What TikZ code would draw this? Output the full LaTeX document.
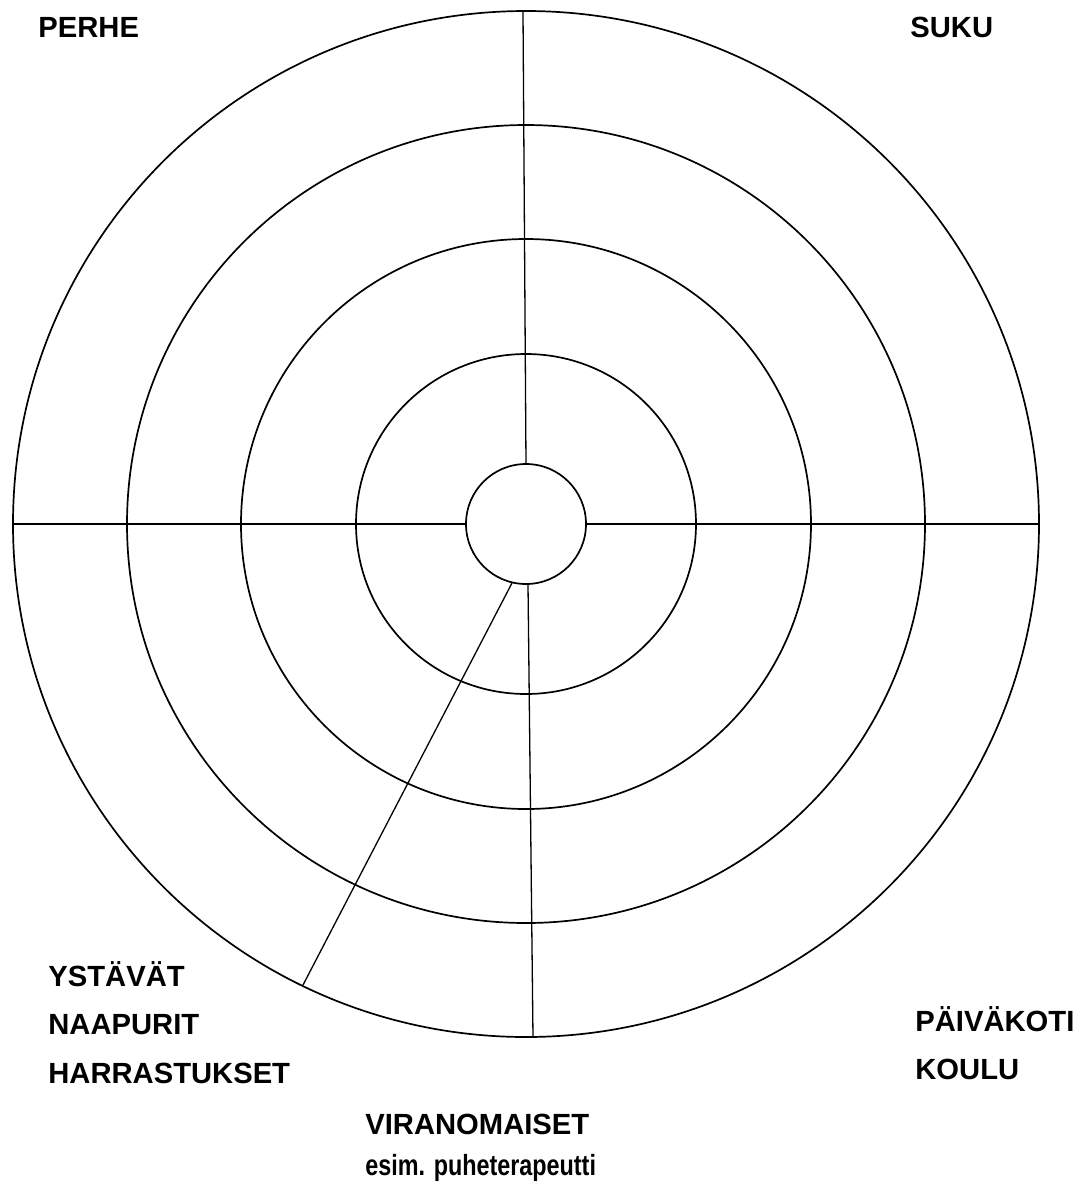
\documentclass[tikz,border=0pt]{standalone}
\usepackage{fontspec}
\setmainfont{Liberation Sans}
\begin{document}
\begin{tikzpicture}[x=0.5pt,y=-0.5pt,
  ring/.style={line width=0.85pt},
  spoke/.style={line width=0.65pt},
  lbl/.style={anchor=base west,inner sep=0pt,font=\fontsize{14.6}{17}\selectfont\bfseries}]
\useasboundingbox (0,0) rectangle (1076,1191);
\coordinate (c) at (526,524);
% rings
\foreach \r in {60,170,285,399,513}{\draw[ring] (c) circle[radius=\r];}
% spokes
\coordinate (t1) at (523,11);   \coordinate (t2) at (526,464);
\coordinate (b1) at (528,584);  \coordinate (b2) at (533,1037);
\coordinate (l1) at (13,524);   \coordinate (l2) at (466,524);
\coordinate (r1) at (586,524);  \coordinate (r2) at (1039,524);
\coordinate (s1) at (512,583);  \coordinate (s2) at (303,985);
\draw[spoke] (t1) -- (t2);
\draw[spoke] (b1) -- (b2);
\draw[spoke] (l1) -- (l2);
\draw[spoke] (r1) -- (r2);
\draw[spoke] (s1) -- (s2);
% labels
\node[lbl] (perhe) at (38,37) {PERHE};
\node[lbl] (suku) at (910,37) {SUKU};
\node[lbl] (ystavat) at (48,986) {YSTÄVÄT};
\node[lbl] (naapurit) at (48,1034) {NAAPURIT};
\node[lbl] (harr) at (48,1083) {HARRASTUKSET};
\node[lbl] (paiva) at (915,1031) {PÄIVÄKOTI};
\node[lbl] (koulu) at (915,1079) {KOULU};
\node[lbl] (viran) at (365,1134) {VIRANOMAISET};
\node[lbl] (esim) at (365,1175) {\scalebox{0.8}[1]{esim. puheterapeutti}};
\end{tikzpicture}
\end{document}
